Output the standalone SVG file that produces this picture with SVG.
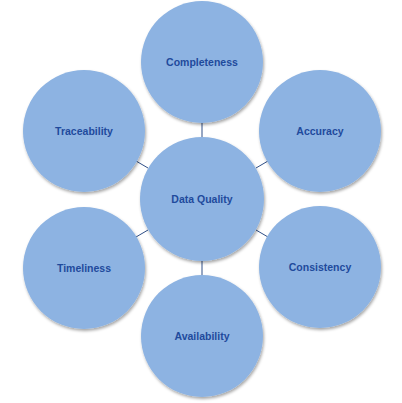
<svg xmlns="http://www.w3.org/2000/svg" width="402" height="403" viewBox="0 0 402 403">
  <style>
    .node circle { fill: #8DB3E2; filter: url(#shadow); }
    .node text { font-family: "Liberation Sans", Arial, sans-serif; font-weight: bold; font-size: 10.5px; fill: #1F4A9C; text-anchor: middle; }
    .link { stroke: #2F4F87; stroke-width: 1; fill: none; }
  </style>
  <defs>
    <filter id="shadow" x="-20%" y="-20%" width="140%" height="140%">
      <feDropShadow dx="1" dy="2" stdDeviation="1.5" flood-color="#000" flood-opacity="0.35"/>
    </filter>
  </defs>
  <rect width="402" height="403" fill="#FFFFFF"/>

  <!-- spokes from the hub to each satellite -->
  <g id="connectors">
    <line class="link" x1="202" y1="123" x2="202" y2="137"/>
    <line class="link" x1="256" y1="168" x2="268" y2="161"/>
    <line class="link" x1="256" y1="230" x2="268" y2="237"/>
    <line class="link" x1="202" y1="261" x2="202" y2="275"/>
    <line class="link" x1="148" y1="230" x2="136" y2="237"/>
    <line class="link" x1="148" y1="168" x2="136" y2="161"/>
  </g>

  <g id="completeness" class="node">
    <circle cx="202" cy="62" r="61"/>
    <text x="202" y="66">Completeness</text>
  </g>
  <g id="accuracy" class="node">
    <circle cx="320" cy="131" r="61"/>
    <text x="320" y="135">Accuracy</text>
  </g>
  <g id="consistency" class="node">
    <circle cx="320" cy="267" r="61"/>
    <text x="320" y="271">Consistency</text>
  </g>
  <g id="availability" class="node">
    <circle cx="202" cy="336" r="61"/>
    <text x="202" y="340">Availability</text>
  </g>
  <g id="timeliness" class="node">
    <circle cx="84" cy="268" r="61"/>
    <text x="84" y="272">Timeliness</text>
  </g>
  <g id="traceability" class="node">
    <circle cx="84" cy="131" r="61"/>
    <text x="84" y="135">Traceability</text>
  </g>
  <g id="data-quality" class="node">
    <circle cx="202" cy="199" r="62"/>
    <text x="202" y="203">Data Quality</text>
  </g>
</svg>
